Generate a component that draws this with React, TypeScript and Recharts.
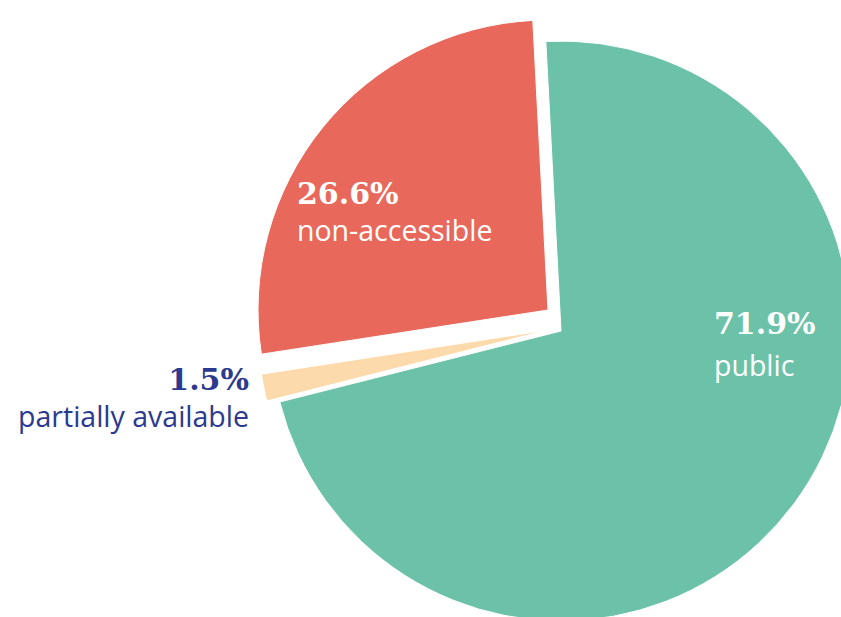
import { PieChart, Pie, Cell } from 'recharts';

// shares of the three access categories, clockwise from 12 o'clock
const categories = ['public', 'partially available', 'non-accessible'];
const shares = [71.9, 1.5, 26.6];
const shareLabels = ['71.9%', '1.5%', '26.6%'];

const data = categories.map((name, i) => ({ name, value: shares[i], label: shareLabels[i] }));

const COLORS: Record<string, string> = {
  public: '#6cc2a8',
  'partially available': '#fddaab',
  'non-accessible': '#e8695b',
};

// how far each slice is pulled out of the pie (dx, dy)
const EXPLODE: Record<string, [number, number]> = {
  public: [0, 0],
  'partially available': [-13, -1],
  'non-accessible': [-13, -21],
};

// label placement, relative to the pie centre
const LABELS: Record<string, { x: number; y1: number; y2: number; anchor: 'start' | 'end'; color: string }> = {
  public: { x: 158, y1: 8, y2: 50, anchor: 'start', color: '#ffffff' },
  'non-accessible': { x: -259, y1: -122, y2: -85, anchor: 'start', color: '#ffffff' },
  'partially available': { x: -307, y1: 64, y2: 101, anchor: 'end', color: '#2b3a8e' },
};

const WIDTH = 841;
const HEIGHT = 617;
const CX = 556;
const CY = 326;
const RADIUS = 290;
const START = 93;

function renderLabel(props: any) {
  const { name, payload } = props;
  const l = LABELS[name];
  if (!l) return null;
  return (
    <g key={`label-${name}`}>
      <text
        x={CX + l.x}
        y={CY + l.y1}
        textAnchor={l.anchor}
        fill={l.color}
        style={{ fontFamily: '"DejaVu Serif", serif', fontWeight: 700, fontSize: 30 }}
      >
        {payload.label}
      </text>
      <text
        x={CX + l.x}
        y={CY + l.y2}
        textAnchor={l.anchor}
        fill={l.color}
        style={{ fontFamily: '"Open Sans", sans-serif', fontSize: 28.5 }}
      >
        {name}
      </text>
    </g>
  );
}

export default function App() {
  return (
    <div style={{ width: WIDTH, height: HEIGHT, background: '#fff' }}>
      <style>{'body{margin:0}'}</style>
      <PieChart width={WIDTH} height={HEIGHT}>
        {categories.map((cat, i) => {
          const [dx, dy] = EXPLODE[cat];
          const isLast = i === categories.length - 1;
          return (
            <Pie
              key={cat}
              data={data}
              dataKey="value"
              nameKey="name"
              cx={CX + dx}
              cy={CY + dy}
              outerRadius={RADIUS}
              startAngle={START}
              endAngle={START - 360}
              isAnimationActive={false}
              label={isLast ? renderLabel : false}
              labelLine={false}
            >
              {data.map((entry) => (
                <Cell
                  key={`cell-${entry.name}`}
                  fill={entry.name === cat ? COLORS[entry.name] : 'transparent'}
                  stroke={entry.name === cat ? '#ffffff' : 'none'}
                  strokeWidth={entry.name === cat ? 1 : 0}
                />
              ))}
            </Pie>
          );
        })}
      </PieChart>
    </div>
  );
}
